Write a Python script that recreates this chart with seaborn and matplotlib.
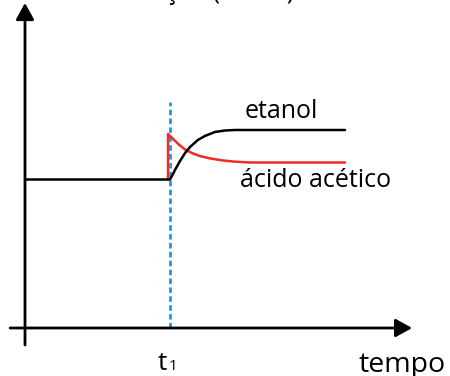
import matplotlib
matplotlib.use("Agg")
import matplotlib.pyplot as plt
import seaborn as sns
import pandas as pd

sns.set_theme(style="white")
plt.rcParams['font.family'] = ['Open Sans', 'DejaVu Sans']

# time units, concentration units
t1 = 3.99
etanol_t = [0.0, 4.0, 4.055, 4.138, 4.276, 4.414, 4.552, 4.772, 4.966, 5.241, 5.517, 5.793, 8.828]
etanol_c = [4.5, 4.5, 4.61, 4.79, 5.06, 5.30, 5.485, 5.70, 5.82, 5.94, 5.985, 6.0, 6.0]
acido_t = [3.945, 3.945, 4.028, 4.138, 4.276, 4.414, 4.607, 4.828, 5.103, 5.434, 5.793, 6.207, 8.828]
acido_c = [4.5, 5.88, 5.79, 5.67, 5.53, 5.41, 5.30, 5.21, 5.14, 5.08, 5.04, 5.015, 5.015]
t1_line_c = [0.0, 6.85]

labels = {"etanol": "etanol", "acido": "ácido acético", "x": "tempo", "y": "Concentração (mol/L)"}

fig = plt.figure(figsize=(4.5, 3.76), dpi=100)
ax = fig.add_axes([0, 0, 1, 1])
ax.set_xlim(-25 / 36.25, 425 / 36.25)
ax.set_ylim(-48 / 33, 328 / 33)
ax.axis('off')

# axes arrows
arrow = dict(arrowstyle='-|>,head_length=1.0,head_width=0.55', lw=2.0, color='black',
             mutation_scale=10, shrinkA=0, shrinkB=0)
ax.annotate('', xy=(10.68, 0), xytext=(-0.41, 0), arrowprops=arrow)
ax.annotate('', xy=(0, 9.85), xytext=(0, -0.515), arrowprops=arrow)

# t1 dashed line
ax.plot([t1, t1], t1_line_c, color='#1e9be0', lw=2.0, ls=(0, (2.0, 1.2)), zorder=2)

df_e = pd.DataFrame({"t": etanol_t, "c": etanol_c})
df_a = pd.DataFrame({"t": acido_t, "c": acido_c})
sns.lineplot(data=df_a, x="t", y="c", sort=False, estimator=None, color='#ee2a2a', lw=1.8, ax=ax, zorder=3)
sns.lineplot(data=df_e, x="t", y="c", sort=False, estimator=None, color='black', lw=1.8, ax=ax, zorder=4)
ax.axis('off')

fs = 18
ax.text(6.07, 6.36, labels["etanol"], fontsize=fs, va='baseline', ha='left', color='black')
ax.text(5.93, 4.27, labels["acido"], fontsize=fs, va='baseline', ha='left', color='black')
ax.text(9.21, -1.33, labels["x"], fontsize=20.5, va='baseline', ha='left', color='black')
ax.text(3.67, -1.27, "t", fontsize=19, va='baseline', ha='left', color='black')
ax.text(3.95, -1.27, "1", fontsize=11, va='baseline', ha='left', color='black')
fig.text(45 / 450, 1 + 1.0 / 376, labels["y"], fontsize=fs, va='baseline', ha='left', color='black')

fig.savefig("out.png", dpi=100)
